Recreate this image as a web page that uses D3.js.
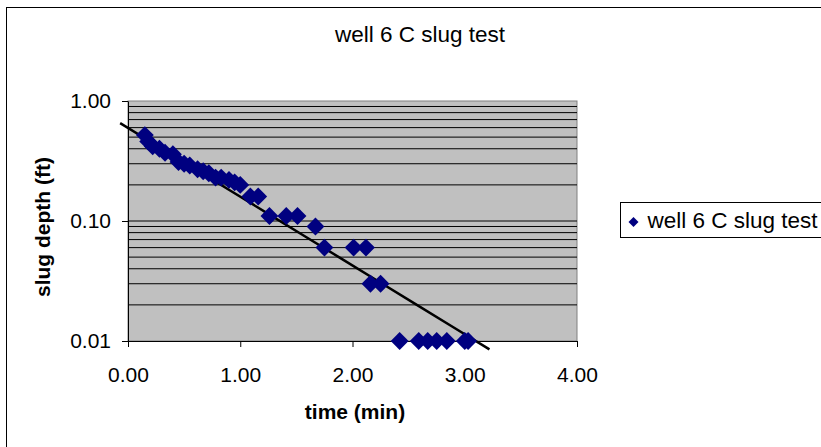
<!DOCTYPE html>
<html>
<head>
<meta charset="utf-8">
<script src="https://cdn.jsdelivr.net/npm/d3@7"></script>
<style>
  html, body { margin: 0; padding: 0; background: #fff; }
  svg { display: block; }
  text { font-family: "Liberation Sans", Arial, sans-serif; fill: #000; }
</style>
</head>
<body>
<svg id="chart" width="821" height="447"></svg>
<script>
// Slug test readings: elapsed time (min) and slug depth (ft)
const timeMin = [0.15, 0.18, 0.22, 0.28, 0.33, 0.40, 0.45, 0.50, 0.55, 0.62, 0.67, 0.72,
                 0.78, 0.83, 0.90, 0.95, 1.00, 1.09, 1.16, 1.26, 1.41, 1.51, 1.67, 1.75,
                 2.01, 2.12, 2.16, 2.25, 2.42, 2.59, 2.67, 2.75, 2.84, 3.00, 3.03];
const slugDepth = [0.52, 0.46, 0.42, 0.40, 0.37, 0.36, 0.31, 0.30, 0.29, 0.27, 0.26, 0.25,
                   0.23, 0.23, 0.22, 0.21, 0.20, 0.16, 0.16, 0.11, 0.11, 0.11, 0.09, 0.06,
                   0.06, 0.06, 0.03, 0.03, 0.01, 0.01, 0.01, 0.01, 0.01, 0.01, 0.01];

// Exponential trendline y = a * exp(b * t), drawn with 0.2 min forecast on each side
const trendA = 0.597;
const trendB = -1.32;
const trendRange = [-0.07, 3.22];

const xTicks = [0, 1, 2, 3, 4];
const yTicks = [0.01, 0.1, 1];
const seriesName = "well 6 C slug test";
const chartTitle = "well 6 C slug test";
const xTitle = "time (min)";
const yTitle = "slug depth (ft)";

const svg = d3.select("#chart");
const plot = { left: 128, right: 577, top: 101, bottom: 341 };

const x = d3.scaleLinear().domain([0, 4]).range([plot.left, plot.right]);
const y = d3.scaleLog().domain([0.01, 1]).range([plot.bottom, plot.top]);
const fmt = d3.format(".2f");

// chart area frame
svg.append("rect")
  .attr("x", 6.5).attr("y", 7.5)
  .attr("width", 840).attr("height", 460)
  .attr("fill", "#fff").attr("stroke", "#000").attr("stroke-width", 1);

// plot area
svg.append("rect")
  .attr("x", plot.left).attr("y", plot.top)
  .attr("width", plot.right - plot.left).attr("height", plot.bottom - plot.top)
  .attr("fill", "#c0c0c0").attr("stroke", "#808080").attr("stroke-width", 1);

// gridlines at every log step (2..9 within each decade, plus the decade marks)
const gridVals = [];
[0.01, 0.1].forEach(dec => {
  for (let k = 1; k <= 9; k++) {
    const v = dec * k;
    if (v > 0.01 + 1e-9 && v < 1 - 1e-9) gridVals.push(v);
  }
});
svg.append("g").selectAll("line").data(gridVals).join("line")
  .attr("x1", plot.left).attr("x2", plot.right)
  .attr("y1", d => y(d)).attr("y2", d => y(d))
  .attr("stroke", "#000").attr("stroke-width", 1);

// axes
const yAxis = svg.append("g")
  .attr("transform", `translate(${plot.left},0)`)
  .call(d3.axisLeft(y).tickValues(yTicks).tickFormat(fmt).tickSize(6).tickSizeOuter(0).tickPadding(11));
const xAxis = svg.append("g")
  .attr("transform", `translate(0,${plot.bottom})`)
  .call(d3.axisBottom(x).tickValues(xTicks).tickFormat(fmt).tickSize(6).tickSizeOuter(0).tickPadding(20));

[yAxis, xAxis].forEach(g => {
  g.select(".domain").attr("stroke", "#000").attr("stroke-width", 1);
  g.selectAll(".tick line").attr("stroke", "#000");
  g.selectAll(".tick text")
    .attr("font-family", "Liberation Sans, Arial, sans-serif")
    .attr("font-size", 21).attr("fill", "#000");
});

// trendline
const trendPts = d3.range(0, 11).map(i => {
  const t = trendRange[0] + (trendRange[1] - trendRange[0]) * i / 10;
  return [t, trendA * Math.exp(trendB * t)];
});
svg.append("path")
  .datum(trendPts)
  .attr("d", d3.line().x(d => x(d[0])).y(d => y(d[1])))
  .attr("fill", "none").attr("stroke", "#000").attr("stroke-width", 2.5);

// data markers (diamonds)
const pts = timeMin.map((t, i) => ({ t, d: slugDepth[i] }));
const diamond = d3.symbol().type(d3.symbolSquare).size(160);
svg.append("g").selectAll("path").data(pts).join("path")
  .attr("d", diamond)
  .attr("transform", p => `translate(${x(p.t)},${y(p.d)}) rotate(45)`)
  .attr("fill", "#000080");

// titles
svg.append("text")
  .attr("x", 420).attr("y", 42)
  .attr("text-anchor", "middle").attr("font-size", 22.5)
  .text(chartTitle);
svg.append("text")
  .attr("x", 355).attr("y", 419)
  .attr("text-anchor", "middle").attr("font-size", 21).attr("font-weight", "bold")
  .text(xTitle);
svg.append("text")
  .attr("transform", "translate(50,227) rotate(-90)")
  .attr("text-anchor", "middle").attr("font-size", 21).attr("font-weight", "bold")
  .text(yTitle);

// legend
const lg = svg.append("g").attr("transform", "translate(620.5,202.5)");
lg.append("rect").attr("width", 240).attr("height", 35)
  .attr("fill", "#fff").attr("stroke", "#000").attr("stroke-width", 1);
lg.append("path")
  .attr("d", d3.symbol().type(d3.symbolSquare).size(50))
  .attr("transform", "translate(13,19.5) rotate(45)")
  .attr("fill", "#000080");
lg.append("text").attr("x", 27).attr("y", 25).attr("font-size", 22.5).text(seriesName);
</script>
</body>
</html>
